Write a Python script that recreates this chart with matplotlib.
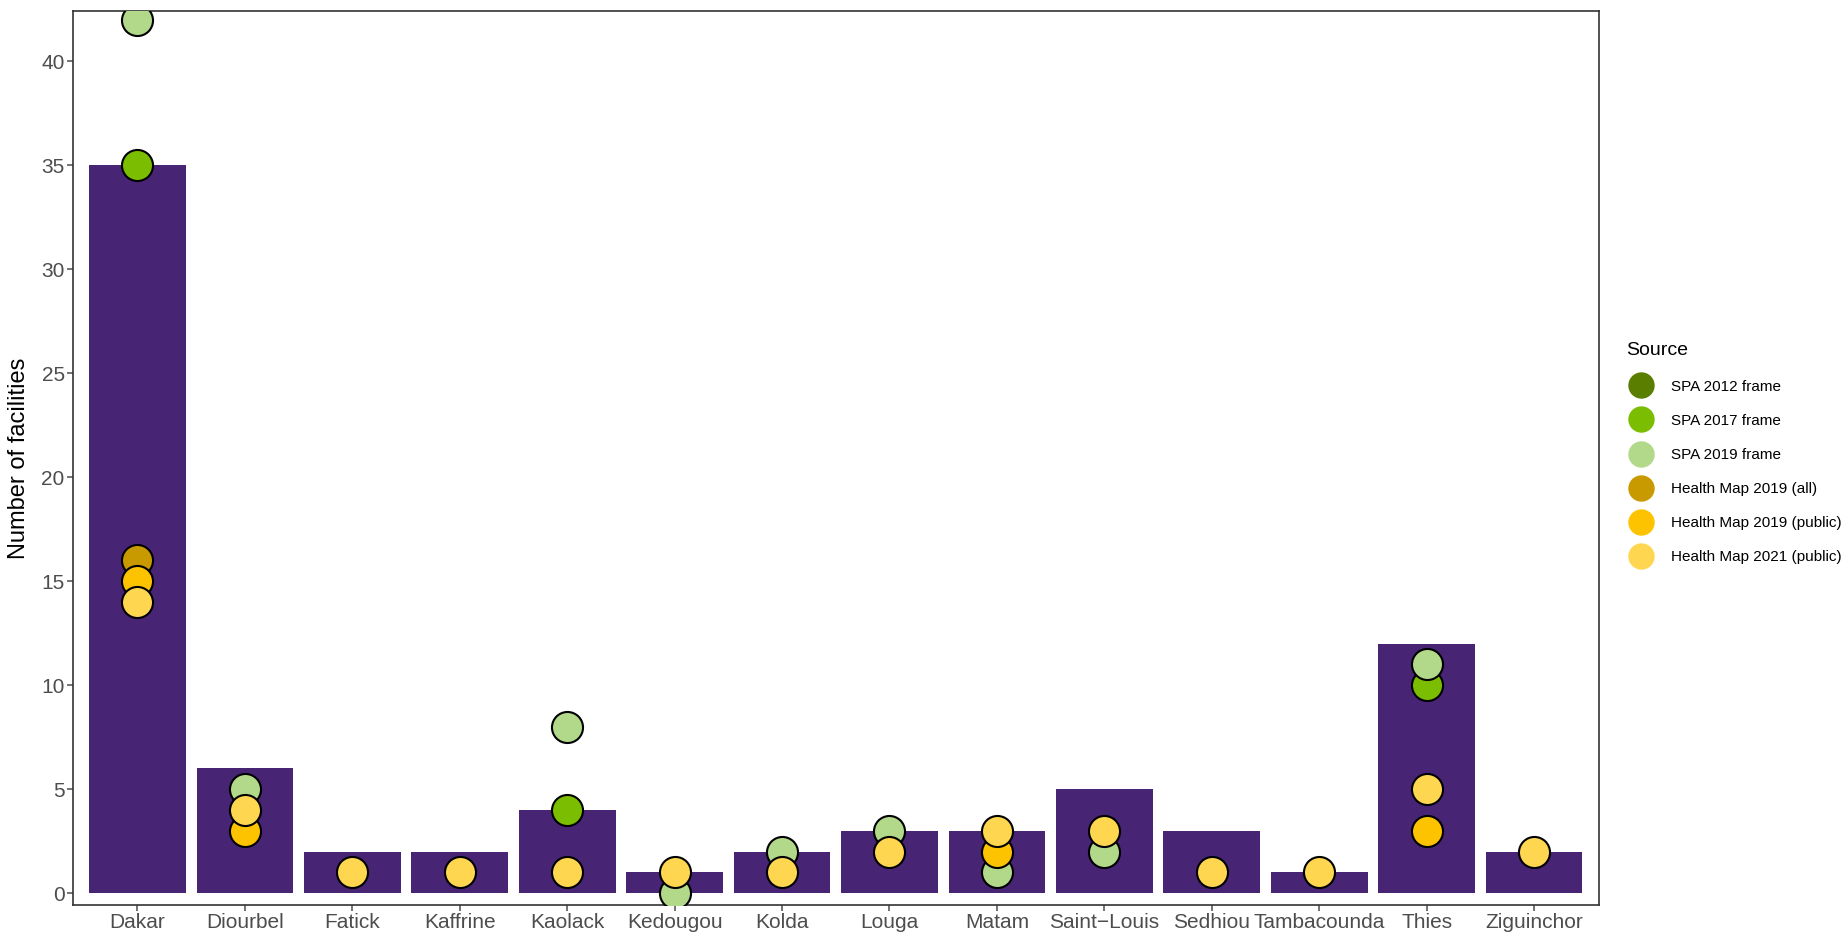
import numpy as np
import matplotlib
matplotlib.use("Agg")
import matplotlib.pyplot as plt
from matplotlib.lines import Line2D

plt.rcParams["font.family"] = ["Liberation Sans", "DejaVu Sans"]

BAR   = "#482475"
GRAY  = "#4D4D4D"
NA = np.nan

regions = ["Dakar", "Diourbel", "Fatick", "Kaffrine", "Kaolack", "Kedougou", "Kolda",
           "Louga", "Matam", "Saint\u2212Louis", "Sedhiou", "Tambacounda", "Thies", "Ziguinchor"]
facilities = [35, 6, 2, 2, 4, 1, 2, 3, 3, 5, 3, 1, 12, 2]

# points per source (NaN = not visible)
spa_2012 = [NA] * 14
spa_2017 = [35, NA, NA, NA, 4, NA, NA, NA, NA, NA, NA, NA, 10, NA]
spa_2019 = [42, 5, NA, NA, 8, 0, 2, 3, 1, 2, NA, NA, 11, NA]
hm_2019_all = [16, NA, NA, NA, NA, NA, NA, NA, NA, NA, NA, NA, NA, NA]
hm_2019_pub = [15, 3, NA, NA, NA, NA, NA, NA, 2, NA, NA, NA, 3, NA]
hm_2021_pub = [14, 4, 1, 1, 1, 1, 1, 2, 3, 3, 1, 1, 5, 2]

sources = [
    ("SPA 2012 frame", spa_2012, "#5A7F00"),
    ("SPA 2017 frame", spa_2017, "#7BBD00"),
    ("SPA 2019 frame", spa_2019, "#B2D98A"),
    ("Health Map 2019 (all)", hm_2019_all, "#C99A00"),
    ("Health Map 2019 (public)", hm_2019_pub, "#FDC300"),
    ("Health Map 2021 (public)", hm_2021_pub, "#FED650"),
]

fig = plt.figure(figsize=(18.48, 9.33), dpi=100)
ax = fig.add_axes([0.0395, 0.030, 0.8255, 0.958])

x = np.arange(len(regions))
ax.bar(x, facilities, width=0.9, color=BAR, zorder=1)
for name, vals, col in sources:
    ax.scatter(x, vals, s=500, color=col, edgecolor="black", linewidth=1.5,
               zorder=3, clip_on=True)

ax.set_xlim(-0.6, 13.6)
ax.set_ylim(-0.57, 42.4)
ax.set_xticks(x)
ax.set_xticklabels(regions)
ax.set_yticks([0, 5, 10, 15, 20, 25, 30, 35, 40])
ax.tick_params(colors=GRAY, labelsize=15, length=4, width=1.1, labelcolor=GRAY, pad=2)
for spine in ax.spines.values():
    spine.set_edgecolor("#333333")
    spine.set_linewidth(1.2)
ax.set_ylabel("Number of facilities", fontsize=17, color="black", labelpad=8)

handles = [Line2D([0], [0], marker="o", linestyle="none", markersize=19,
                  markerfacecolor=col, markeredgewidth=0, label=name)
           for name, vals, col in sources]
leg = fig.legend(handles=handles, title="Source", loc="upper left",
                 bbox_to_anchor=(0.880, 0.633), frameon=False, fontsize=11,
                 title_fontsize=14, handletextpad=1.0, labelspacing=1.32,
                 borderaxespad=0, handlelength=1.9, borderpad=0)
leg._legend_box.align = "left"

fig.savefig("out.png", dpi=100, facecolor="white")
